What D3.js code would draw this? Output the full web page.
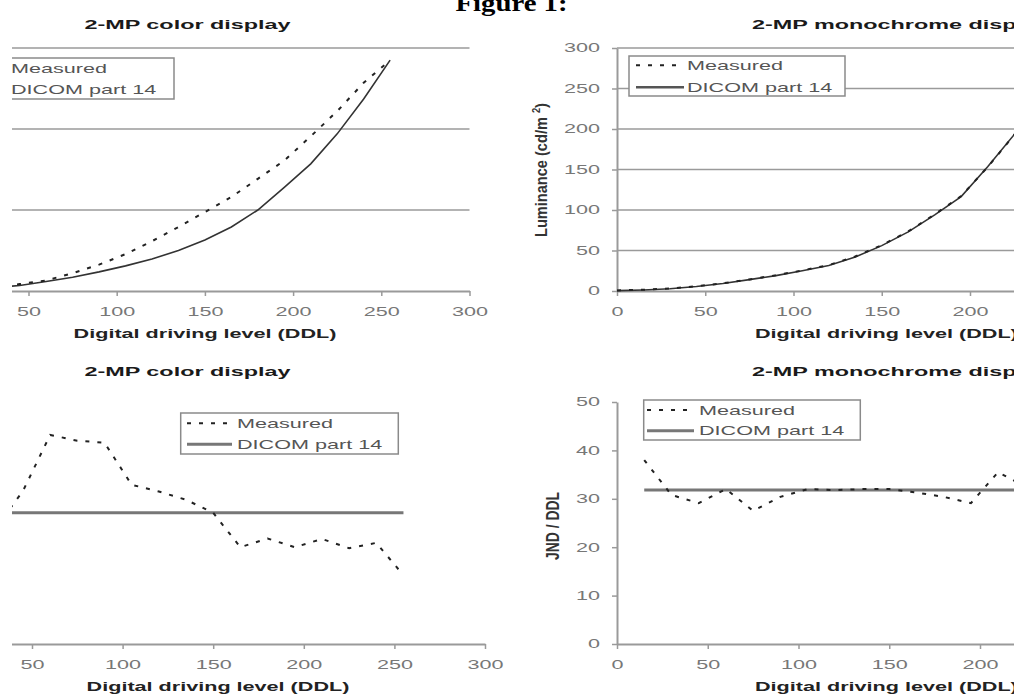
<!DOCTYPE html>
<html>
<head>
<meta charset="utf-8">
<script src="https://cdn.jsdelivr.net/npm/d3@7"></script>
<style>
  body { margin: 0; background: #fff; }
  svg { display: block; }
</style>
</head>
<body>
<svg id="fig" width="1014" height="695"></svg>
<script>
const colorLumDDL      = [30, 45, 60, 75, 90, 105, 120, 135, 150, 165, 180, 195, 210, 225, 240, 255];
const colorLumMeasured = [4.5, 8.5, 13, 22, 32.5, 45.5, 61.5, 79, 97.5, 116, 138.5, 161, 191, 222, 257, 285];
const colorLumDicom    = [4.2, 6.8, 11.8, 17, 23.6, 31, 39.5, 50, 63, 79, 100, 128, 157, 194, 237, 285];

const monoLumDDL      = [0, 15, 30, 45, 60, 75, 90, 105, 120, 135, 150, 165, 180, 195, 210, 225, 240];
const monoLumMeasured = [0.7, 1.6, 3.1, 5.8, 9.6, 14.3, 19.4, 25.4, 32, 42.6, 56.6, 73.5, 94.6, 117.2, 153, 192.6, 239];
const monoLumDicom    = [0.5, 1.3, 2.8, 5.5, 9.3, 14, 19, 25, 31.5, 42, 56, 73, 94, 116.5, 153.5, 193, 240];

const colorJndDDL      = [30, 45, 60, 75, 90, 105, 120, 135, 150, 165, 180, 195, 210, 225, 240, 255];
const colorJndMeasured = [24, 31.6, 43.2, 42.0, 41.6, 32.9, 31.5, 29.8, 27.1, 20.0, 21.8, 20.0, 21.7, 19.8, 20.9, 14.2];
const colorJndDicomDDL = [30, 255];
const colorJndDicom    = [27.1, 27.1];

const monoJndDDL      = [15, 30, 45, 60, 75, 90, 105, 120, 135, 150, 165, 180, 195, 210, 225];
const monoJndMeasured = [38.0, 30.8, 29.1, 32.0, 27.5, 30.4, 32.0, 31.8, 32.0, 32.0, 31.3, 30.4, 29.1, 35.5, 32.5];
const monoJndDicomDDL = [15, 255];
const monoJndDicom    = [31.8, 31.8];

const xTicks        = [0, 50, 100, 150, 200, 250, 300];
const lumTicks      = [0, 50, 100, 150, 200, 250, 300];
const colorLumGrid  = [100, 200, 300];
const jndTicks      = [0, 10, 20, 30, 40, 50];
const legendLabels  = ["Measured", "DICOM part 14"];

const W = 1014, H = 695;
const SX = 1.8;               // the scanned figure is stretched sideways
const FONT = "'Liberation Sans', Arial, sans-serif";

const svg = d3.select("#fig");
svg.append("defs").append("clipPath").attr("id", "clipL")
  .append("rect").attr("x", 12).attr("y", 0).attr("width", 495).attr("height", H);

function label(g, s, x, y, o) {
  return g.append("text")
    .attr("transform", `translate(${x},${y}) scale(${o.sx || SX},1)`)
    .attr("text-anchor", o.anchor || "start")
    .attr("font-family", o.family || FONT)
    .attr("font-size", o.size || 12)
    .attr("font-weight", o.bold ? "bold" : "normal")
    .attr("fill", o.color || "#555")
    .text(s);
}

function styleAxis(ax) {
  ax.attr("font-family", FONT).attr("font-size", 12);
  ax.select(".domain").attr("stroke", "#9a9a9a").attr("stroke-width", 2);
  ax.selectAll(".tick line").attr("stroke", "#9a9a9a").attr("stroke-width", 1.5);
  ax.selectAll(".tick text").attr("fill", "#777");
}

const styles = {
  measured:  { stroke: "#222", width: 2, dash: "4,8" },
  dicomThin: { stroke: "#333", width: 1.6, dash: null },
  dicomWide: { stroke: "#777", width: 3, dash: null },
  dicomLeg:  { stroke: "#555", width: 2.6, dash: null }
};

function applyStyle(sel, st) {
  sel.attr("fill", "none").attr("stroke", st.stroke).attr("stroke-width", st.width);
  if (st.dash) sel.attr("stroke-dasharray", st.dash);
  return sel;
}

function panel(cfg) {
  const g = svg.append("g");
  if (cfg.clip) g.attr("clip-path", "url(#clipL)");

  const x = d3.scaleLinear().domain([0, 300]).range(cfg.xr);
  const y = d3.scaleLinear().domain(cfg.yd).range(cfg.yr);
  const left = cfg.clip ? 12 : 0;

  g.append("g").selectAll("line").data(cfg.grid).join("line")
    .attr("x1", x(0)).attr("x2", x(300))
    .attr("y1", d => y(d)).attr("y2", d => y(d))
    .attr("stroke", "#9a9a9a").attr("stroke-width", 1.6);

  // only ticks that fall inside the scanned crop
  const shown = xTicks.filter(v => x(v) >= left && x(v) <= W - 10);
  const ax = g.append("g").attr("transform", `translate(0,${y(0)})`)
    .call(d3.axisBottom(x).tickValues(shown).tickSize(5).tickSizeOuter(0));
  styleAxis(ax);
  ax.selectAll(".tick text").attr("y", 16.5).attr("transform", `scale(${SX},1)`);

  if (cfg.yTicks) {
    const ay = g.append("g").attr("transform", `translate(${x(0)},0)`)
      .call(d3.axisLeft(y).tickValues(cfg.yTicks).tickSize(5).tickSizeOuter(0));
    styleAxis(ay);
    ay.selectAll(".tick text").attr("x", -17 / SX).attr("transform", `scale(${SX},1)`);
  }

  const line = d3.line().x(d => x(d[0])).y(d => y(d[1]));
  cfg.series.forEach(s => {
    applyStyle(g.append("path").datum(d3.zip(s.ddl, s.v)).attr("d", line), s.style);
  });

  // legend
  const L = cfg.legend;
  g.append("rect")
    .attr("x", L.x0).attr("y", L.y0).attr("width", L.x1 - L.x0).attr("height", L.y1 - L.y0)
    .attr("fill", "#fff").attr("stroke", "#8a8a8a").attr("stroke-width", 1.5);
  L.samples.forEach((st, i) => {
    applyStyle(g.append("line")
      .attr("x1", L.s0).attr("x2", L.s1).attr("y1", L.sy[i]).attr("y2", L.sy[i]), st);
    label(g, legendLabels[i], L.tx, L.ty[i], { size: 12, color: "#555" });
  });

  // title and axis label
  label(g, cfg.title, cfg.titleX, cfg.titleY, { size: 13, bold: true, color: "#1a1a1a", anchor: cfg.titleAnchor });
  label(g, "Digital driving level (DDL)", cfg.xlabX, cfg.xlabY, { size: 12, bold: true, color: "#222", anchor: cfg.titleAnchor });
  return g;
}

// top-left: 2-MP color display, luminance
panel({
  clip: true, xr: [-59.7, 469.5], yd: [0, 300], yr: [291, 48], grid: colorLumGrid,
  series: [
    { ddl: colorLumDDL, v: colorLumDicom, style: styles.dicomThin },
    { ddl: colorLumDDL, v: colorLumMeasured, style: styles.measured }
  ],
  legend: { x0: -40, y0: 58, x1: 174, y1: 99, s0: -36, s1: 6, sy: [68, 89], tx: 11, ty: [73, 94],
            samples: [styles.measured, styles.dicomLeg] },
  title: "2-MP color display", titleX: 187.5, titleY: 28.5, titleAnchor: "middle",
  xlabX: 205, xlabY: 338
});

// top-right: 2-MP monochrome display, luminance
const tr = panel({
  clip: false, xr: [617, 1146.5], yd: [0, 300], yr: [291, 48], grid: lumTicks.slice(1), yTicks: lumTicks,
  series: [
    { ddl: monoLumDDL, v: monoLumDicom, style: styles.dicomThin },
    { ddl: monoLumDDL, v: monoLumMeasured, style: styles.measured }
  ],
  legend: { x0: 629, y0: 56, x1: 845, y1: 96, s0: 636, s1: 684, sy: [65.3, 87.3], tx: 687, ty: [70, 91.5],
            samples: [styles.measured, styles.dicomLeg] },
  title: "2-MP monochrome display", titleX: 752, titleY: 28.5, titleAnchor: "start",
  xlabX: 755, xlabY: 338
});

// bottom-left: 2-MP color display, JND per DDL
panel({
  clip: true, xr: [-58.6, 485], yd: [0, 50], yr: [644, 402], grid: [],
  series: [
    { ddl: colorJndDicomDDL, v: colorJndDicom, style: styles.dicomWide },
    { ddl: colorJndDDL, v: colorJndMeasured, style: styles.measured }
  ],
  legend: { x0: 180.7, y0: 413, x1: 398.3, y1: 454, s0: 187, s1: 232, sy: [423.3, 444.3], tx: 237, ty: [427.5, 448.5],
            samples: [styles.measured, styles.dicomWide] },
  title: "2-MP color display", titleX: 187.5, titleY: 376, titleAnchor: "middle",
  xlabX: 218, xlabY: 691
});

// bottom-right: 2-MP monochrome display, JND per DDL
const br = panel({
  clip: false, xr: [617, 1161.5], yd: [0, 50], yr: [644, 402], grid: [], yTicks: jndTicks,
  series: [
    { ddl: monoJndDicomDDL, v: monoJndDicom, style: styles.dicomWide },
    { ddl: monoJndDDL, v: monoJndMeasured, style: styles.measured }
  ],
  legend: { x0: 643.7, y0: 400, x1: 860.3, y1: 440, s0: 647, s1: 694, sy: [410, 430.7], tx: 699, ty: [414.5, 435],
            samples: [styles.measured, styles.dicomWide] },
  title: "2-MP monochrome display", titleX: 752, titleY: 376, titleAnchor: "start",
  xlabX: 755, xlabY: 691
});

// rotated y-axis titles of the right-hand panels
const lum = tr.append("text")
  .attr("transform", "translate(547,170) rotate(-90) scale(1,1.35)")
  .attr("text-anchor", "middle").attr("font-family", FONT).attr("font-size", 12.5)
  .attr("font-weight", "bold").attr("fill", "#333")
  .attr("textLength", 134).attr("lengthAdjust", "spacingAndGlyphs");
lum.append("tspan").text("Luminance (cd/m ");
lum.append("tspan").attr("dy", -5).attr("font-size", 8).text("2");
lum.append("tspan").attr("dy", 5).text(")");

br.append("text")
  .attr("transform", "translate(559,526) rotate(-90) scale(1,1.35)")
  .attr("text-anchor", "middle").attr("font-family", FONT).attr("font-size", 13)
  .attr("font-weight", "bold").attr("fill", "#333")
  .attr("textLength", 68).attr("lengthAdjust", "spacingAndGlyphs")
  .text("JND / DDL");

// document caption, cut off at the top of the scan
label(svg, "Figure 1:", 511.5, 11, { size: 24, bold: true, color: "#000", anchor: "middle", sx: 1.2,
  family: "'Liberation Serif', 'Times New Roman', serif" });
</script>
</body>
</html>
